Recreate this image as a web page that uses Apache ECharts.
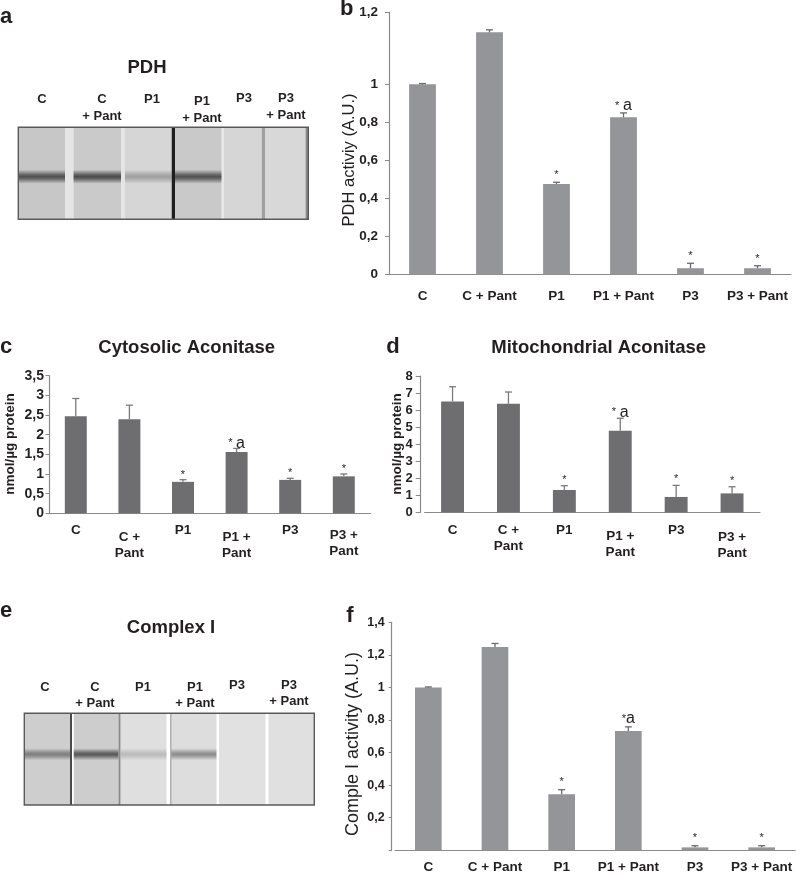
<!DOCTYPE html>
<html><head><meta charset="utf-8">
<script src="https://cdn.jsdelivr.net/npm/echarts@6/dist/echarts.min.js"></script>
<style>html,body{margin:0;padding:0;background:#fff}#chart{width:796px;height:876px}</style>
</head><body><div id="chart"></div>
<script>
// ---------------- data ----------------
const categoriesWide = ['C', 'C + Pant', 'P1', 'P1 + Pant', 'P3', 'P3 + Pant'];
const categoriesWrapped = ['C', 'C +\nPant', 'P1', 'P1 +\nPant', 'P3', 'P3 +\nPant'];
const laneLabels = ['C', 'C\n+ Pant', 'P1', 'P1\n+ Pant', 'P3', 'P3\n+ Pant'];

// b: PDH activity (A.U.)
const pdhActivity = [1.0, 1.272, 0.476, 0.826, 0.034, 0.034];
const pdhError = [0.003, 0.013, 0.009, 0.023, 0.026, 0.013];
const pdhMarks = ['', '', '*', '* a', '*', '*'];
const pdhTickValues = [0, 0.2, 0.4, 0.6, 0.8, 1.0, 1.377];
const pdhTickLabels = ['0', '0,2', '0,4', '0,6', '0,8', '1', '1,2'];

// c: cytosolic aconitase (nmol/µg protein)
const cytAconitase = [2.47, 2.39, 0.80, 1.56, 0.85, 0.94];
const cytError = [0.45, 0.36, 0.055, 0.09, 0.04, 0.06];
const cytMarks = ['', '', '*', '* a', '*', '*'];

// d: mitochondrial aconitase (nmol/µg protein)
const mitAconitase = [6.51, 6.37, 1.31, 4.79, 0.90, 1.11];
const mitError = [0.86, 0.69, 0.25, 0.73, 0.68, 0.39];
const mitMarks = ['', '', '*', '* a', '*', '*'];

// f: complex I activity (A.U.)
const complexActivity = [1.0, 1.249, 0.344, 0.732, 0.018, 0.018];
const complexError = [0.003, 0.021, 0.028, 0.026, 0.010, 0.010];
const complexMarks = ['', '', '*', '*a', '*', '*'];

// blot band intensities (0 = no band)
const pdhBands = [0.85, 0.9, 0.35, 0.85, 0, 0];
const complexBands = [0.55, 0.8, 0.22, 0.5, 0, 0];

// ---------------- style / layout ----------------
const FONT = '"Liberation Sans", Arial, Helvetica, sans-serif';
const TXT = '#231f20';
const AX = '#8a8a8a';
const LIGHT_BAR = '#949598';
const DARK_BAR = '#6e6e71';
const ERR = '#6a6a6a';

const cLabelPad = [0, 7, 0, 7, 0, 5];
const dLabelPad = [0, 0, 0, 6, 0, 7];

function commaFmt(v) { return String(v).replace('.', ','); }

function markRich(s) {
  return s.split('').map(ch => ch === '*' ? '{s|*}' : (ch === 'a' ? '{a|a}' : '{sp| }')).join('');
}

function errRender(marks, color, capW, gap) {
  return function (params, api) {
    const i = params.dataIndex;
    const x = api.value(0), v = api.value(1), e = api.value(2);
    const base = api.coord([x, v]);
    const top = api.coord([x, v + e]);
    const children = [
      { type: 'line', shape: { x1: base[0], y1: base[1], x2: top[0], y2: top[1] }, style: { stroke: color, lineWidth: 1.3 } },
      { type: 'line', shape: { x1: top[0] - capW / 2, y1: top[1], x2: top[0] + capW / 2, y2: top[1] }, style: { stroke: color, lineWidth: 1.3 } }
    ];
    if (marks[i]) {
      children.push({
        type: 'text', x: top[0], y: top[1] - gap,
        style: {
          text: markRich(marks[i]), align: 'center', verticalAlign: 'bottom',
          rich: {
            s: { fontSize: 11, fontFamily: FONT, fill: TXT, color: TXT, lineHeight: 14 },
            a: { fontSize: 16, fontFamily: FONT, fill: TXT, color: TXT, lineHeight: 14 },
            sp: { fontSize: 13, fontFamily: FONT, lineHeight: 14 }
          }
        }
      });
    }
    return { type: 'group', children };
  };
}

// two-line x labels: first line pushed down by p px, second line keeps 16px spacing
function wrapFmt(pads) {
  return function (val, idx) {
    const parts = val.split('\n');
    if (parts.length === 1) return '{n|' + val + '}';
    const p = pads[idx];
    return '{f' + p + '|' + parts[0] + '}\n{g' + p + '|' + parts[1] + '}';
  };
}
const wrapRich = {};
[0, 5, 6, 7].forEach(p => {
  wrapRich['f' + p] = { fontSize: 13.5, fontWeight: 'bold', fontFamily: FONT, color: TXT, lineHeight: 16 + 2 * p };
  wrapRich['g' + p] = { fontSize: 13.5, fontWeight: 'bold', fontFamily: FONT, color: TXT, lineHeight: 16 - 2 * p };
});
wrapRich.n = { fontSize: 13.5, fontWeight: 'bold', fontFamily: FONT, color: TXT, lineHeight: 16 };

function toTriples(vals, errs) { return vals.map((v, i) => [i, v, errs[i]]); }

// ---------------- blots ----------------
const pdhBlot = {
  box: [18.3, 127.3, 308.3, 219.3],
  lanes: [[18.3, 65, '#c7c7c7'], [73.3, 121, '#cacaca'], [125, 171.7, '#d6d6d6'], [175, 221.7, '#c9c9c9'], [224, 261.7, '#d6d6d6'], [265, 305.5, '#d8d8d8']],
  strips: [[65, 73.3, '#e5e5e5'], [121, 125, '#e5e5e5'], [171.7, 175, '#1e1e1e'], [221.7, 224, '#e8e8e8'], [261.7, 265, '#a0a0a0'], [305.5, 308.3, '#8a8a8a']],
  bandY: 176.7, bandH: 14,
  labelX: [42, 102, 152, 202, 244, 286], labelY: [99, 99, 99, 101, 98, 98], lineH: 17
};
const complexBlot = {
  box: [24.3, 713.3, 314.3, 805],
  lanes: [[24.3, 70, '#cecece'], [73.5, 118.5, '#cdcdcd'], [120.5, 166.7, '#dfdfdf'], [170, 216.7, '#dddddd'], [219, 265.7, '#e1e1e1'], [268.3, 314.3, '#e0e0e0']],
  strips: [[70, 72, '#4a4a4a'], [72, 73.5, '#ffffff'], [118.5, 120.5, '#8a8a8a'], [166.7, 170, '#ffffff'], [170, 171.5, '#b0b0b0'], [216.7, 219, '#ffffff'], [265.7, 268.3, '#ffffff']],
  bandY: 754.3, bandH: 12,
  labelX: [45, 95, 143, 195, 237, 289], labelY: [687, 687, 687, 687, 685, 685], lineH: 16.5
};

function blotGraphics(b, bands) {
  const els = [];
  const [bx0, by0, bx1, by1] = b.box;
  b.lanes.forEach((l, i) => {
    els.push({
      type: 'rect', shape: { x: l[0], y: by0, width: l[1] - l[0], height: by1 - by0 },
      style: { fill: l[2] }, silent: true
    });
    const k = bands[i];
    if (k > 0) {
      els.push({
        type: 'rect', shape: { x: l[0], y: b.bandY - b.bandH / 2, width: l[1] - l[0], height: b.bandH },
        style: {
          fill: new echarts.graphic.LinearGradient(0, 0, 0, 1, [
            { offset: 0, color: 'rgba(60,60,60,0)' },
            { offset: 0.35, color: 'rgba(60,60,60,' + (k * 0.8) + ')' },
            { offset: 0.5, color: 'rgba(60,60,60,' + k + ')' },
            { offset: 0.65, color: 'rgba(60,60,60,' + (k * 0.8) + ')' },
            { offset: 1, color: 'rgba(60,60,60,0)' }
          ])
        }, silent: true
      });
    }
  });
  b.strips.forEach(s => {
    els.push({ type: 'rect', shape: { x: s[0], y: by0, width: s[1] - s[0], height: by1 - by0 }, style: { fill: s[2] }, silent: true });
  });
  els.push({ type: 'rect', shape: { x: bx0, y: by0, width: bx1 - bx0, height: by1 - by0 }, style: { fill: 'none', stroke: '#5a5a5a', lineWidth: 1.4 }, silent: true });
  laneLabels.forEach((t, i) => {
    els.push({
      type: 'text', x: b.labelX[i], y: b.labelY[i] - b.lineH / 2,
      style: { text: t, align: 'center', verticalAlign: 'top', font: 'bold 13px ' + FONT, fill: TXT, lineHeight: b.lineH }
    });
  });
  return els;
}

function txt(t, x, y, size, weight, rot) {
  return { type: 'text', x, y, rotation: rot || 0, style: { text: t, align: 'center', verticalAlign: 'middle', font: (weight || 'bold') + ' ' + size + 'px ' + FONT, fill: TXT } };
}
const UP = Math.PI / 2;

const graphics = [].concat(
  blotGraphics(pdhBlot, pdhBands),
  blotGraphics(complexBlot, complexBands),
  [
    txt('a', 6, 17.3, 22), txt('b', 346.7, 9, 22), txt('c', 6, 347.3, 22), txt('d', 393, 347.3, 22),
    txt('e', 6, 610.6, 22), txt('f', 350, 615.6, 22),
    txt('PDH', 147, 68, 18.5), txt('Complex I', 171, 627.5, 18.5),
    txt('Cytosolic Aconitase', 186.7, 348, 18.5), txt('Mitochondrial Aconitase', 598.7, 348, 18.5),
    // axis titles
    txt('PDH activiy (A.U.)', 349, 160, 16.5, 'normal', UP),
    txt('nmol/µg protein', 10, 444, 13.5, 'bold', UP),
    txt('nmol/µg protein', 397, 444, 13.5, 'bold', UP),
    txt('Comple I activity (A.U.)', 353.5, 744, 18, 'normal', UP)
  ]
);

// ---------------- axes helpers ----------------
function xAxisCfg(grid, data, opts) {
  return Object.assign({
    type: 'category', gridIndex: grid, data,
    axisLine: { show: true, lineStyle: { color: AX, width: 1.2 } },
    axisTick: { show: false },
    axisLabel: { interval: 0, color: TXT, fontFamily: FONT, fontWeight: 'bold', fontSize: 13 }
  }, opts);
}
function yAxisCfg(grid, opts) {
  return Object.assign({
    type: 'value', gridIndex: grid,
    splitLine: { show: false },
    axisLine: { show: true, lineStyle: { color: AX, width: 1.2 } },
    axisTick: { show: true, length: 4, lineStyle: { color: AX } }
  }, opts);
}

const option = {
  animation: false,
  backgroundColor: '#fff',
  grid: [
    { left: 389, top: 12.3, width: 402, height: 262.4, outerBoundsMode: 'none', containLabel: false },
    { left: 49, top: 375.7, width: 321.6, height: 137.6, outerBoundsMode: 'none', containLabel: false },
    { left: 424.6, top: 376, width: 335.4, height: 136.3, outerBoundsMode: 'none', containLabel: false },
    { left: 395, top: 622.3, width: 400, height: 228, outerBoundsMode: 'none', containLabel: false }
  ],
  xAxis: [
    xAxisCfg(0, categoriesWide, { axisLabel: { interval: 0, color: TXT, fontFamily: FONT, fontWeight: 'bold', fontSize: 13.5, margin: 15 } }),
    xAxisCfg(1, categoriesWrapped, { axisLabel: { interval: 0, margin: 9, formatter: wrapFmt(cLabelPad), rich: wrapRich } }),
    xAxisCfg(2, categoriesWrapped, { axisLabel: { interval: 0, margin: 10, formatter: wrapFmt(dLabelPad), rich: wrapRich } }),
    xAxisCfg(3, categoriesWide, { axisLabel: { interval: 0, color: TXT, fontFamily: FONT, fontWeight: 'bold', fontSize: 13.5, margin: 10 } })
  ],
  yAxis: [
    yAxisCfg(0, {
      min: 0, max: pdhTickValues[pdhTickValues.length - 1],
      axisTick: { show: true, length: 4, lineStyle: { color: AX }, customValues: pdhTickValues },
      axisLabel: {
        customValues: pdhTickValues, margin: 11, color: TXT, fontFamily: FONT, fontWeight: 'bold', fontSize: 13.5,
        formatter: v => { const i = pdhTickValues.findIndex(t => Math.abs(t - v) < 1e-6); return i >= 0 ? pdhTickLabels[i] : ''; }
      }
    }),
    yAxisCfg(1, {
      min: 0, max: 3.5, interval: 0.5,
      axisTick: { show: true, length: 3.5, lineStyle: { color: AX } },
      axisLabel: { margin: 5, color: TXT, fontFamily: FONT, fontWeight: 'bold', fontSize: 14, formatter: commaFmt }
    }),
    yAxisCfg(2, {
      min: 0, max: 8, interval: 1, offset: 3.9,
      axisTick: { show: true, length: 5, lineStyle: { color: AX } },
      axisLabel: { margin: 8, color: TXT, fontFamily: FONT, fontWeight: 'bold', fontSize: 13, formatter: commaFmt }
    }),
    yAxisCfg(3, {
      min: 0, max: 1.4, interval: 0.2, offset: 3.3,
      axisTick: { show: true, length: 3, lineStyle: { color: AX } },
      axisLabel: { margin: 7, color: TXT, fontFamily: FONT, fontWeight: 'bold', fontSize: 12.5, formatter: v => v === 0 ? '' : commaFmt(Math.round(v * 10) / 10) }
    })
  ],
  series: [
    { type: 'bar', xAxisIndex: 0, yAxisIndex: 0, data: pdhActivity, barWidth: '40%', itemStyle: { color: LIGHT_BAR } },
    { type: 'custom', xAxisIndex: 0, yAxisIndex: 0, data: toTriples(pdhActivity, pdhError), renderItem: errRender(pdhMarks, ERR, 7, 0), z: 5, clip: false },
    { type: 'bar', xAxisIndex: 1, yAxisIndex: 1, data: cytAconitase, barWidth: '41%', itemStyle: { color: DARK_BAR } },
    { type: 'custom', xAxisIndex: 1, yAxisIndex: 1, data: toTriples(cytAconitase, cytError), renderItem: errRender(cytMarks, '#7a7a7a', 7, -2), z: 5, clip: false },
    { type: 'bar', xAxisIndex: 2, yAxisIndex: 2, data: mitAconitase, barWidth: '41%', itemStyle: { color: DARK_BAR } },
    { type: 'custom', xAxisIndex: 2, yAxisIndex: 2, data: toTriples(mitAconitase, mitError), renderItem: errRender(mitMarks, '#7a7a7a', 7, -1), z: 5, clip: false },
    { type: 'bar', xAxisIndex: 3, yAxisIndex: 3, data: complexActivity, barWidth: '40%', itemStyle: { color: LIGHT_BAR } },
    { type: 'custom', xAxisIndex: 3, yAxisIndex: 3, data: toTriples(complexActivity, complexError), renderItem: errRender(complexMarks, ERR, 7, 1), z: 5, clip: false }
  ],
  graphic: graphics
};

const chart = echarts.init(document.getElementById('chart'), null, { renderer: 'canvas' });
chart.setOption(option);
</script>
</body></html>
